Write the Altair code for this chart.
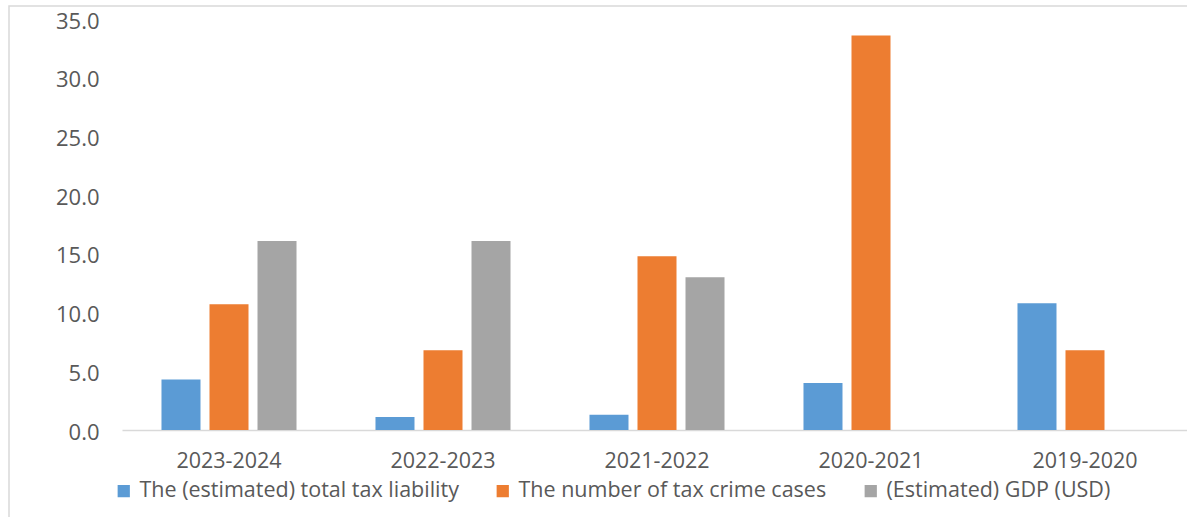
import altair as alt
import pandas as pd

periods = ["2023-2024", "2022-2023", "2021-2022", "2020-2021", "2019-2020"]
series = [
    "The (estimated) total tax liability",
    "The number of tax crime cases",
    "(Estimated) GDP (USD)",
]
colors = ["#5B9BD5", "#ED7D31", "#A5A5A5"]

liability = [4.3, 1.1, 1.3, 4.0, 10.8]
crime_cases = [10.7, 6.8, 14.8, 33.6, 6.8]
gdp = [16.1, 16.1, 13.0, None, None]

y_ticks = [0, 5, 10, 15, 20, 25, 30, 35]

rows = []
for name, vals in zip(series, [liability, crime_cases, gdp]):
    for p, v in zip(periods, vals):
        if v is not None:
            rows.append({"period": p, "series": name, "value": v})
df = pd.DataFrame(rows)

FONT = "Open Sans"
TXT = "#595959"

bars = alt.Chart(df).mark_bar().encode(
    x=alt.X(
        "period:N",
        sort=periods,
        scale=alt.Scale(range=[0, 1070], paddingInner=0.369, paddingOuter=0.1845),
        axis=alt.Axis(
            title=None,
            labelAngle=0,
            ticks=False,
            domainColor="#D9D9D9",
            domainWidth=1.5,
            labelFontSize=21.5,
            labelColor=TXT,
            labelFont=FONT,
            labelPadding=20,
        ),
    ),
    xOffset=alt.XOffset("series:N", sort=series, scale=alt.Scale(domain=series, paddingInner=0.1875)),
    y=alt.Y(
        "value:Q",
        scale=alt.Scale(domain=[0, 35], nice=False),
        axis=alt.Axis(
            title=None,
            values=y_ticks,
            format=".1f",
            grid=False,
            domain=False,
            ticks=False,
            labelFontSize=22,
            labelColor=TXT,
            labelFont=FONT,
            labelPadding=23,
            labelOffset=2,
        ),
    ),
    color=alt.Color(
        "series:N",
        sort=series,
        scale=alt.Scale(domain=series, range=colors),
        legend=alt.Legend(
            title=None,
            orient="none",
            legendX=-9,
            legendY=461,
            direction="horizontal",
            symbolType="square",
            symbolSize=150,
            symbolStrokeWidth=0,
            labelFontSize=21.5,
            labelColor=TXT,
            labelFont=FONT,
            labelLimit=500,
            labelOffset=5,
            columnPadding=33,
            padding=0,
        ),
    ),
)

frame = alt.Chart(pd.DataFrame({"a": [0]})).mark_rect(
    fillOpacity=0, stroke="#D9D9D9", strokeWidth=1.5
).encode(
    x=alt.value(-113),
    x2=alt.value(1100),
    y=alt.value(-13),
    y2=alt.value(530),
)

chart = alt.layer(frame, bars).properties(
    width=1065,
    height=411,
    autosize=alt.AutoSizeParams(type="none"),
    padding={"left": 122, "top": 19, "right": 0, "bottom": 87},
    background="white",
).configure_view(stroke=None)

chart.save("out.html", embed_options={"renderer": "svg", "actions": False})
